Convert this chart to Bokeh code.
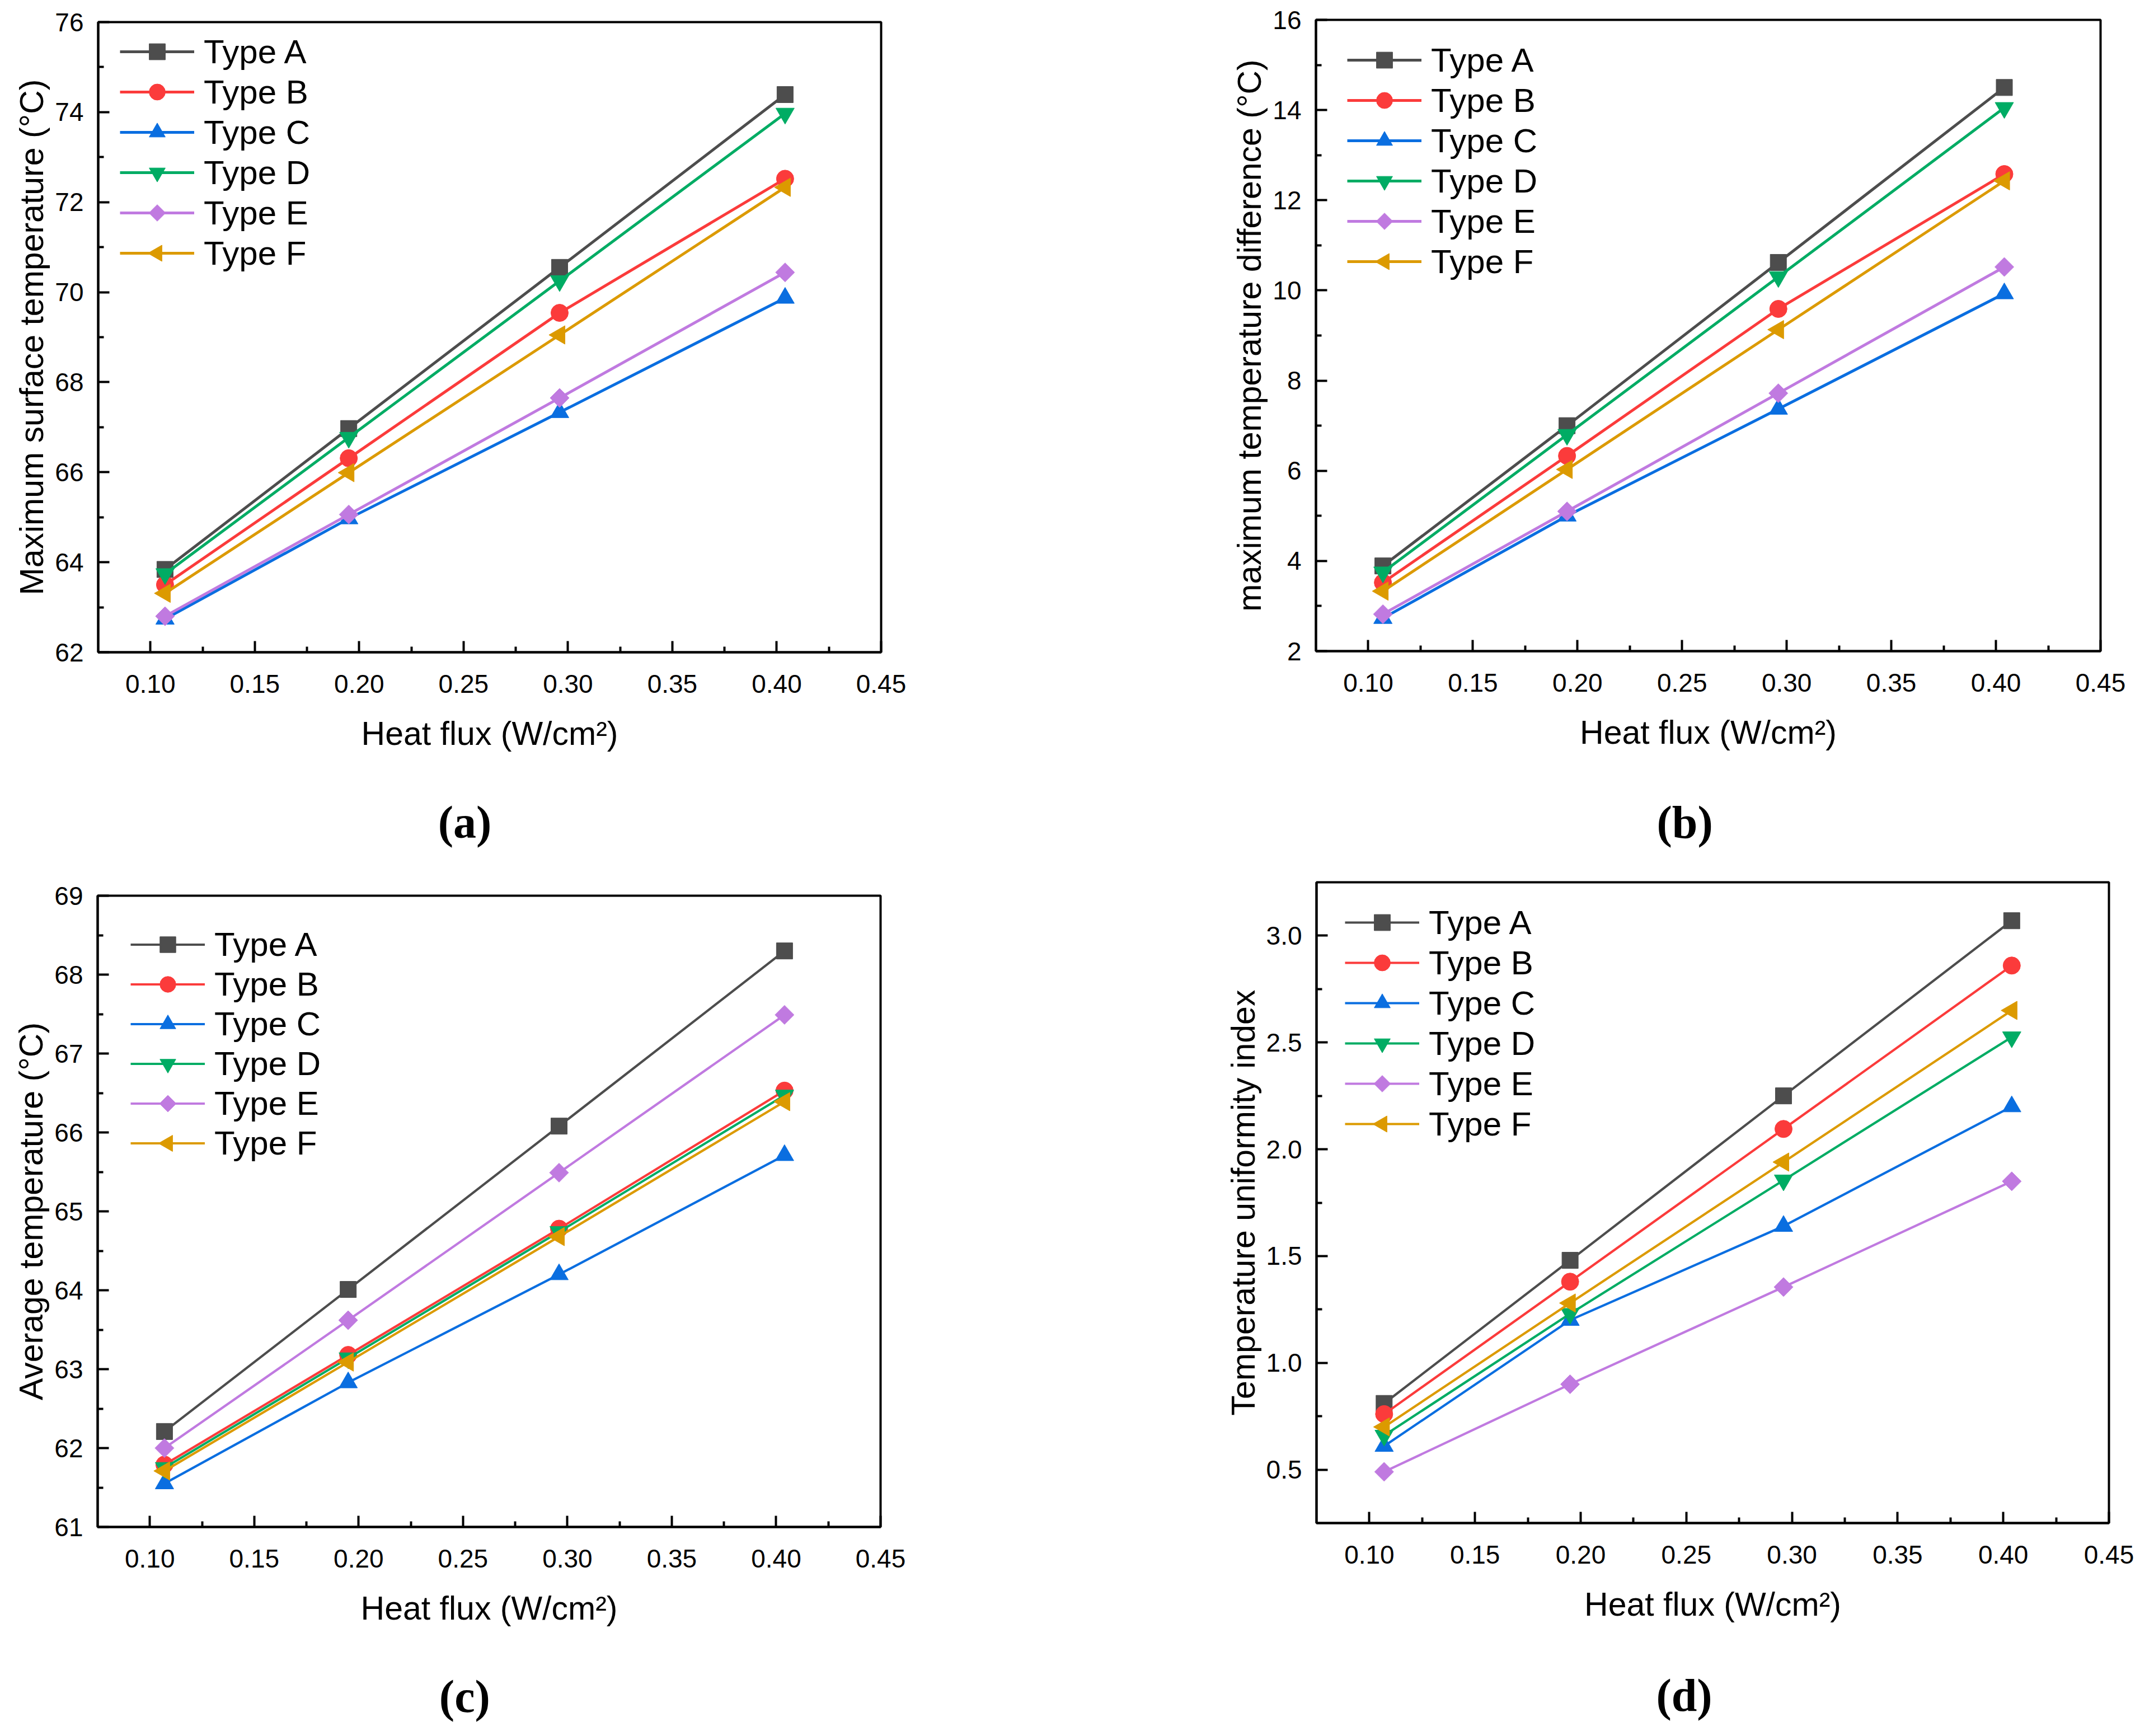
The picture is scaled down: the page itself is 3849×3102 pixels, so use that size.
from bokeh.plotting import figure
from bokeh.layouts import column, row
from bokeh.models import (Range1d, FixedTicker, NumeralTickFormatter, Legend,
                          ColumnDataSource, LinearAxis)
from bokeh.embed import file_html
from bokeh.resources import INLINE
import math

# ---------------- data ----------------
heat_flux = [0.107, 0.195, 0.296, 0.404]
types = ["Type A", "Type B", "Type C", "Type D", "Type E", "Type F"]

# (a) Maximum surface temperature (°C)
a_A = [63.84, 66.97, 70.55, 74.39]
a_B = [63.50, 66.31, 69.54, 72.52]
a_C = [62.74, 64.97, 67.33, 69.87]
a_D = [63.74, 66.77, 70.25, 73.97]
a_E = [62.80, 65.06, 67.65, 70.44]
a_F = [63.31, 65.99, 69.05, 72.33]

# (b) maximum temperature difference (°C)
b_A = [3.89, 7.00, 10.62, 14.50]
b_B = [3.52, 6.33, 9.59, 12.58]
b_C = [2.73, 5.00, 7.37, 9.93]
b_D = [3.75, 6.80, 10.30, 14.05]
b_E = [2.82, 5.10, 7.72, 10.52]
b_F = [3.33, 6.03, 9.13, 12.43]

# (c) Average temperature (°C)
c_A = [62.21, 64.01, 66.08, 68.30]
c_B = [61.79, 63.18, 64.78, 66.53]
c_C = [61.55, 62.83, 64.20, 65.71]
c_D = [61.75, 63.14, 64.74, 66.47]
c_E = [62.00, 63.62, 65.49, 67.49]
c_F = [61.71, 63.09, 64.68, 66.39]

# (d) Temperature uniformity index
d_A = [0.81, 1.48, 2.25, 3.07]
d_B = [0.76, 1.38, 2.095, 2.86]
d_C = [0.61, 1.20, 1.64, 2.20]
d_D = [0.66, 1.23, 1.855, 2.525]
d_E = [0.49, 0.90, 1.355, 1.85]
d_F = [0.70, 1.28, 1.94, 2.65]

x_ticks = [0.10, 0.15, 0.20, 0.25, 0.30, 0.35, 0.40, 0.45]
x_minor = [0.125, 0.175, 0.225, 0.275, 0.325, 0.375, 0.425]

colors = ["#4d4d4d", "#fb3b3b", "#0a6ee0", "#00ac64", "#c07ae0", "#dc9a00"]
markers = ["square", "circle", "triangle", "inverted_triangle", "square", "triangle"]
# Type E: square turned 45° (diamond); Type F: left-pointing triangle
angles = [0.0, 0.0, 0.0, 0.0, math.pi / 4, math.pi / 2]
msizes = [29, 31, 33, 33, 24, 33]
legend_msizes = [None, None, None, None, 21, 29]

SANS = "Liberation Sans"
SERIF = "Liberation Serif"
XR = (0.075, 0.45)
GLYPH_W = 133


def make_panel(series, ylabel, yr, yticks, yminor, yfmt, W, H, mb, legend_loc,
               item_h, letter, letter_dx, letter_gap, lw):
    left, right, top, bottom = mb
    p = figure(width=W, height=H, output_backend="svg", toolbar_location=None,
               x_range=Range1d(*XR), y_range=Range1d(*yr),
               min_border_left=left, min_border_right=right,
               min_border_top=top, min_border_bottom=bottom)
    p.frame_align = False
    p.background_fill_color = "white"
    p.border_fill_color = "white"
    p.xgrid.visible = False
    p.ygrid.visible = False
    p.outline_line_color = "black"
    p.outline_line_width = 4
    p.outline_line_alpha = 1.0

    p.xaxis.ticker = FixedTicker(ticks=x_ticks, minor_ticks=x_minor)
    p.xaxis.formatter = NumeralTickFormatter(format="0.00")
    p.yaxis.ticker = FixedTicker(ticks=yticks, minor_ticks=yminor)
    p.yaxis.formatter = NumeralTickFormatter(format=yfmt)
    p.xaxis.axis_label = "Heat flux (W/cm\u00b2)"
    p.yaxis.axis_label = ylabel
    for ax in (p.xaxis, p.yaxis):
        ax.axis_line_color = "black"
        ax.axis_line_width = 4
        ax.major_tick_line_color = "black"
        ax.major_tick_line_width = 4
        ax.minor_tick_line_color = "black"
        ax.minor_tick_line_width = 4
        ax.major_tick_in = 20
        ax.major_tick_out = 0
        ax.minor_tick_in = 10
        ax.minor_tick_out = 0
        ax.major_label_text_font = SANS
        ax.major_label_text_font_size = "46px"
        ax.major_label_text_color = "black"
        ax.axis_label_text_font = SANS
        ax.axis_label_text_font_style = "normal"
        ax.axis_label_text_color = "black"
    p.xaxis.major_label_standoff = 40
    p.xaxis.axis_label_text_font_size = "59px"
    p.xaxis.axis_label_standoff = 37
    p.yaxis.axis_label_text_font_size = "59px"
    p.yaxis.axis_label_standoff = 5
    p.yaxis.major_label_standoff = 26

    items = []
    for name, ys, c, m, ang, ms in zip(types, series, colors, markers, angles, msizes):
        src = ColumnDataSource(dict(x=heat_flux, y=ys, ang=[ang] * len(ys)))
        r1 = p.line("x", "y", source=src, line_color=c, line_width=lw)
        r2 = p.scatter("x", "y", source=src, marker=m, size=ms, angle="ang",
                       angle_units="rad", fill_color=c, line_color=c, line_width=1)
        if ang == 0:
            items.append((name, [r1, r2]))
        else:
            items.append((name, [r1]))

    legend = Legend(items=items, location=legend_loc, orientation="vertical")
    legend.border_line_color = None
    legend.background_fill_alpha = 0
    legend.padding = 0
    legend.margin = 0
    legend.spacing = 0
    legend.glyph_width = GLYPH_W
    legend.glyph_height = item_h
    legend.label_height = item_h
    legend.label_standoff = 17
    legend.label_text_font = SANS
    legend.label_text_font_size = "60px"
    legend.label_text_color = "black"
    p.add_layout(legend)

    # turned legend samples for Types E and F (legend glyphs ignore marker angle)
    fw = W - left - right
    fh = H - top - bottom
    vx, vy = legend_loc
    n = len(types)
    for i in range(n):
        if legend_msizes[i] is None:
            continue
        lx = XR[0] + (vx + GLYPH_W / 2) / fw * (XR[1] - XR[0])
        ly = yr[0] + (vy + (n - 1 - i) * item_h + item_h / 2) / fh * (yr[1] - yr[0])
        lsrc = ColumnDataSource(dict(x=[lx], y=[ly], ang=[angles[i]]))
        p.scatter("x", "y", source=lsrc, marker=markers[i], size=legend_msizes[i],
                  angle="ang", angle_units="rad", fill_color=colors[i],
                  line_color=colors[i], line_width=1)

    # panel letter: an undecorated second bottom axis whose only tick label is the letter
    letter_x = round(XR[0] + letter_dx / fw * (XR[1] - XR[0]), 4)
    lab_axis = LinearAxis(ticker=FixedTicker(ticks=[letter_x], minor_ticks=[]),
                          major_label_overrides={letter_x: letter},
                          axis_line_color=None,
                          major_tick_in=0, major_tick_out=0,
                          minor_tick_in=0, minor_tick_out=0,
                          major_tick_line_color=None, minor_tick_line_color=None,
                          major_label_standoff=letter_gap,
                          major_label_text_font=SERIF,
                          major_label_text_font_style="bold",
                          major_label_text_font_size="82px",
                          major_label_text_color="black")
    p.add_layout(lab_axis, "below")
    return p


pa = make_panel([a_A, a_B, a_C, a_D, a_E, a_F], "Maximum surface temperature (\u00b0C)",
                (62, 76), [62, 64, 66, 68, 70, 72, 74, 76], [63, 65, 67, 69, 71, 73, 75], "0",
                1917, 1532, (175, 343, 39, 367), (39, 677), 72, "(a)", 655, 77, 5)
pb = make_panel([b_A, b_B, b_C, b_D, b_E, b_F], "maximum temperature difference (\u00b0C)",
                (2, 16), [2, 4, 6, 8, 10, 12, 14, 16], [3, 5, 7, 9, 11, 13, 15], "0",
                1916, 1532, (434, 80, 35, 369), (56, 660), 72, "(b)", 659, 79, 5)
pc = make_panel([c_A, c_B, c_C, c_D, c_E, c_F], "Average temperature (\u00b0C)",
                (61, 69), [61, 62, 63, 64, 65, 66, 67, 68, 69],
                [61.5, 62.5, 63.5, 64.5, 65.5, 66.5, 67.5, 68.5], "0",
                1917, 1554, (174, 344, 68, 358), (59, 650), 71, "(c)", 656, 76, 4.2)
pd_ = make_panel([d_A, d_B, d_C, d_D, d_E, d_F], "Temperature uniformity index",
                 (0.25, 3.25), [0.5, 1.0, 1.5, 2.0, 2.5, 3.0],
                 [0.75, 1.25, 1.75, 2.25, 2.75], "0.0",
                 1916, 1554, (435, 65, 44, 365), (51, 677), 72, "(d)", 657, 81, 4.2)

layout = column(row(pa, pb, spacing=0), row(pc, pd_, spacing=0), spacing=0)

open("out.html", "w").write(file_html(layout, INLINE))
